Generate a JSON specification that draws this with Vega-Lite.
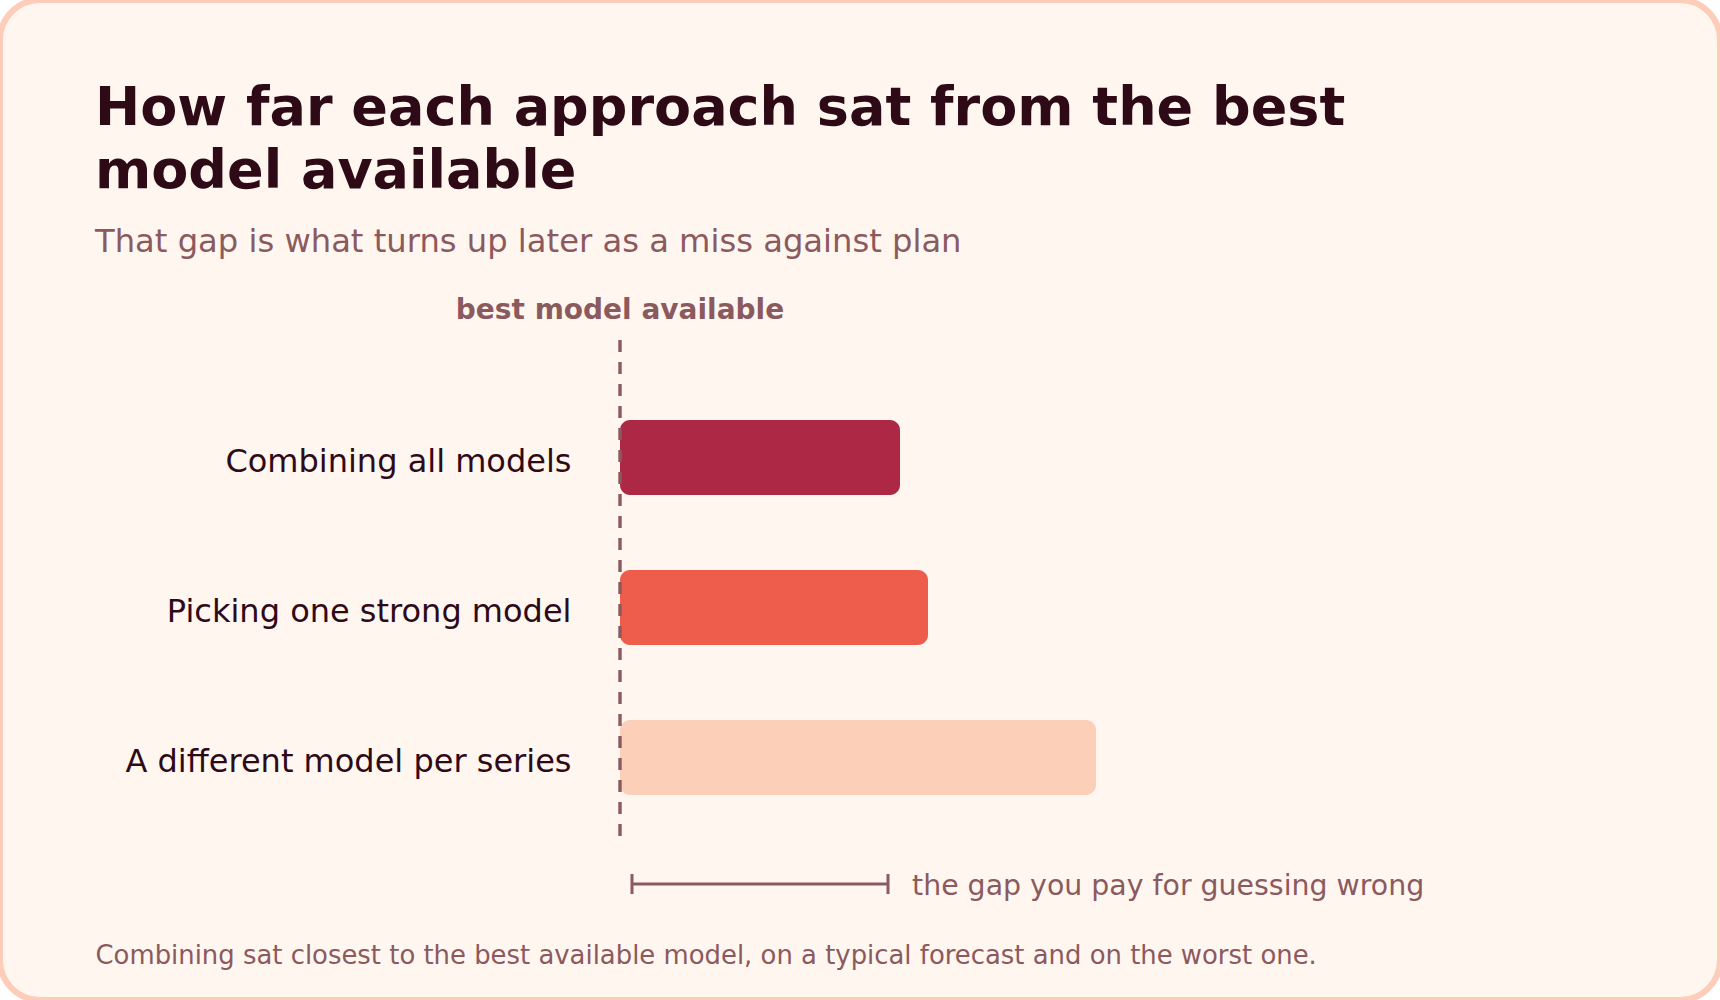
{
  "$schema": "https://vega.github.io/schema/vega-lite/v6.json",
  "width": 1720,
  "height": 1000,
  "autosize": {"type": "fit", "contains": "padding"},
  "padding": 0,
  "background": "#ffffff",
  "config": {
    "font": "DejaVu Sans",
    "view": {"fill": "#FFF6F0", "stroke": "#FDCDB9", "strokeWidth": 6, "cornerRadius": 40}
  },
  "title": {
    "text": ["How far each approach sat from the best", "model available"],
    "subtitle": "That gap is what turns up later as a miss against plan",
    "anchor": "start",
    "frame": "group",
    "orient": "top",
    "dx": 95,
    "offset": -258,
    "font": "DejaVu Sans",
    "fontSize": 54,
    "fontWeight": "bold",
    "color": "#2E0A17",
    "lineHeight": 63,
    "subtitleFont": "DejaVu Sans",
    "subtitleFontSize": 32.2,
    "subtitleColor": "#8B5A5E",
    "subtitlePadding": 28
  },
  "data": {
    "values": [
      {"approach": "Combining all models", "gap": 5.6},
      {"approach": "Picking one strong model", "gap": 6.16},
      {"approach": "A different model per series", "gap": 9.52}
    ]
  },
  "layer": [
    {
      "mark": {"type": "bar", "cornerRadius": 10},
      "encoding": {
        "y": {
          "field": "approach",
          "type": "nominal",
          "sort": ["Combining all models", "Picking one strong model", "A different model per series"],
          "scale": {
            "domain": ["Combining all models", "Picking one strong model", "A different model per series"],
            "range": [382.5, 832.5],
            "paddingInner": 0.5,
            "paddingOuter": 0.25
          },
          "axis": {
            "orient": "left",
            "offset": -620,
            "domain": false,
            "ticks": false,
            "tickSize": 0,
            "grid": false,
            "labelPadding": 49,
            "labelOffset": 4,
            "labelFontSize": 32,
            "labelFont": "DejaVu Sans",
            "labelColor": "#2E0A17",
            "labelLimit": 1000,
            "title": null
          }
        },
        "x": {
          "field": "gap",
          "type": "quantitative",
          "scale": {"domain": [-12.4, 22], "nice": false, "zero": false},
          "axis": null
        },
        "color": {
          "field": "approach",
          "type": "nominal",
          "scale": {
            "domain": ["Combining all models", "Picking one strong model", "A different model per series"],
            "range": ["#AD2845", "#EE5D4C", "#FCCFB8"]
          },
          "legend": null
        }
      }
    },
    {
      "data": {"values": [{"ref": "best model available"}]},
      "mark": {"type": "rule", "color": "#8B5A5E", "strokeWidth": 3.4, "strokeDash": [12, 10]},
      "encoding": {
        "x": {"datum": 0, "type": "quantitative"},
        "y": {"datum": "Combining all models", "type": "nominal", "bandPosition": -1.067},
        "y2": {"datum": "A different model per series", "bandPosition": 1.547}
      }
    },
    {
      "data": {"values": [{"ref": "best model available"}]},
      "mark": {"type": "text", "color": "#8B5A5E", "fontSize": 28, "fontWeight": "bold", "align": "center", "baseline": "alphabetic"},
      "encoding": {
        "text": {"field": "ref"},
        "x": {"datum": 0, "type": "quantitative"},
        "y": {"datum": "Combining all models", "type": "nominal", "bandPosition": -1.347}
      }
    },
    {
      "data": {"values": [{"note": "the gap you pay for guessing wrong"}]},
      "mark": {"type": "rule", "color": "#8B5A5E", "strokeWidth": 3},
      "encoding": {
        "x": {"datum": 0.24, "type": "quantitative"},
        "x2": {"datum": 5.36},
        "y": {"datum": "A different model per series", "type": "nominal", "bandPosition": 2.187}
      }
    },
    {
      "data": {"values": [{"note": "the gap you pay for guessing wrong"}]},
      "mark": {"type": "rule", "color": "#8B5A5E", "strokeWidth": 3},
      "encoding": {
        "x": {"datum": 0.24, "type": "quantitative"},
        "y": {"datum": "A different model per series", "type": "nominal", "bandPosition": 2.054},
        "y2": {"datum": "A different model per series", "bandPosition": 2.32}
      }
    },
    {
      "data": {"values": [{"note": "the gap you pay for guessing wrong"}]},
      "mark": {"type": "rule", "color": "#8B5A5E", "strokeWidth": 3},
      "encoding": {
        "x": {"datum": 5.36, "type": "quantitative"},
        "y": {"datum": "A different model per series", "type": "nominal", "bandPosition": 2.054},
        "y2": {"datum": "A different model per series", "bandPosition": 2.32}
      }
    },
    {
      "data": {"values": [{"note": "the gap you pay for guessing wrong"}]},
      "mark": {"type": "text", "color": "#8B5A5E", "fontSize": 28.4, "align": "left", "baseline": "middle"},
      "encoding": {
        "text": {"field": "note"},
        "x": {"datum": 5.84, "type": "quantitative"},
        "y": {"datum": "A different model per series", "type": "nominal", "bandPosition": 2.213}
      }
    },
    {
      "data": {"values": [{"note": "Combining sat closest to the best available model, on a typical forecast and on the worst one."}]},
      "mark": {"type": "text", "color": "#8B5A5E", "fontSize": 25.9, "align": "left", "baseline": "alphabetic"},
      "encoding": {
        "text": {"field": "note"},
        "x": {"datum": -10.49, "type": "quantitative"},
        "y": {"datum": "A different model per series", "type": "nominal", "bandPosition": 3.253}
      }
    }
  ]
}
